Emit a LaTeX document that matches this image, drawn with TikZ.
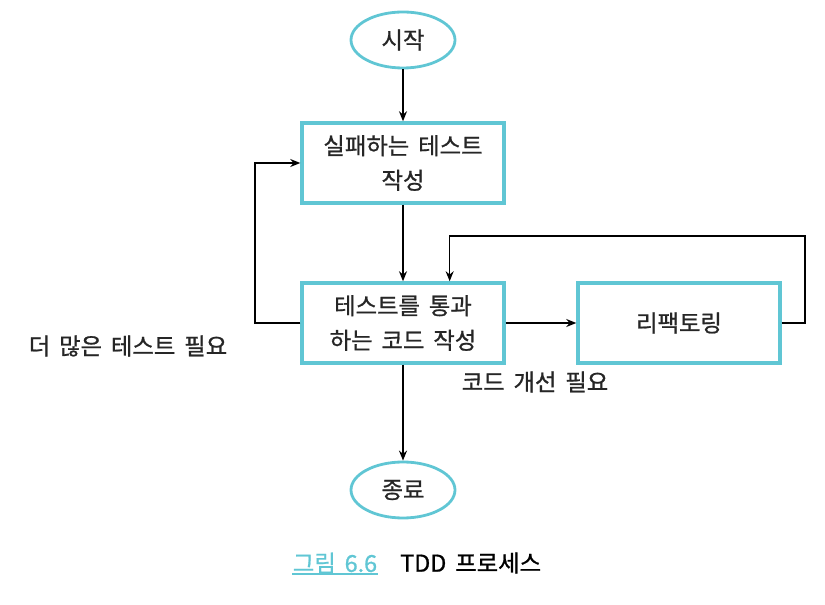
\documentclass[tikz,border=0pt]{standalone}
\usepackage{fontspec}
\setmainfont{Noto Sans CJK KR}[FakeBold=0.9,WordSpace=1.7]
\usetikzlibrary{shapes.geometric,arrows.meta}
\definecolor{tddcyan}{RGB}{96,198,212}
\tikzset{
  flowbox/.style={draw=tddcyan,line width=2.6pt,minimum width=151.5pt,minimum height=60pt,
    align=center,text=black!85,font=\fontsize{17.5}{26}\selectfont},
  endpoint/.style={ellipse,draw=tddcyan,line width=2.1pt,minimum width=78pt,minimum height=42pt,
    inner sep=0pt,text=black!85,font=\fontsize{17.5}{26}\selectfont},
  note/.style={text=black!85,font=\fontsize{17.5}{26}\selectfont},
  flow/.style={line width=1.1pt,-{Stealth[length=7.5pt,width=6pt]}}
}
\begin{document}
\begin{tikzpicture}[x=0.75pt,y=-0.75pt] % TDD process
  \useasboundingbox (0,0) rectangle (825,605);
  % steps
  \node[endpoint] (start) at (403,40) {시작};
  \node[flowbox] (fail) at (403,163) {실패하는 테스트\\작성};
  \node[flowbox] (pass) at (403,323) {테스트를 통과\\하는 코드 작성};
  \node[flowbox] (refac) at (679,323) {리팩토링};
  \node[endpoint] (stop) at (403,490) {종료};
  % loop labels
  \node[note] (more) at (128,346) {더 많은 테스트 필요};
  \node[note] (improve) at (535,382) {코드 개선 필요};
  \coordinate (loopL) at (255,236);
  \coordinate (loopR) at (805,236);
  % connectors
  \draw[flow] (start) -- (fail);
  \draw[flow] (fail) -- (pass);
  \draw[flow] (pass) -- (refac);
  \draw[flow] (pass) -- (stop);
  \draw[flow] (pass.west) -| (loopL) |- (fail.west);
  \draw[flow] (refac.east) -| (loopR) -| ([xshift=35pt]pass.north);
  % caption
  \node[note,text=tddcyan,inner sep=0pt] (capnum) at (335,563) {그림 6.6};
  \draw[tddcyan,line width=0.9pt] (292,574) -- (378,574);
  \node[note,text=black,anchor=west,inner sep=0pt] (captitle) at (400,563) {TDD 프로세스};
\end{tikzpicture}
\end{document}
